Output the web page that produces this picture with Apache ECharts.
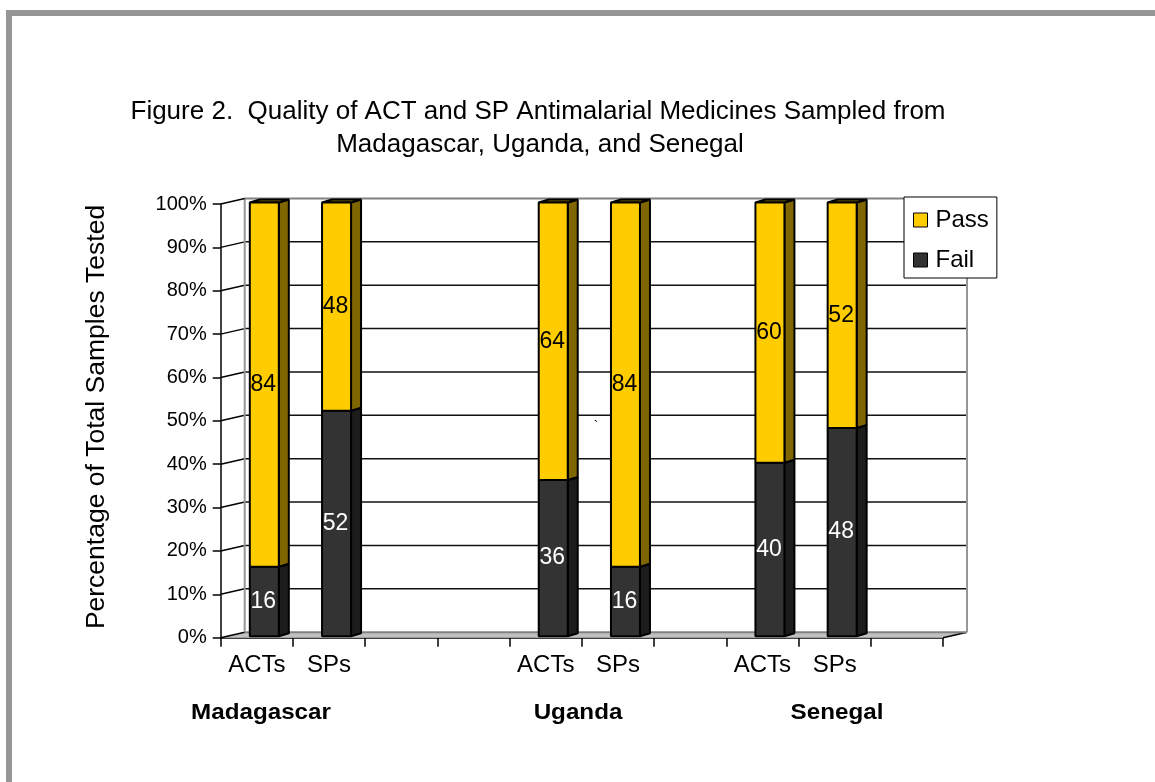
<!DOCTYPE html>
<html>
<head>
<meta charset="utf-8">
<title>Figure 2</title>
<script src="https://cdn.jsdelivr.net/npm/echarts@6/dist/echarts.min.js"></script>
<style>
  html, body { margin: 0; padding: 0; background: #fff; }
  #chart { width: 1155px; height: 782px; }
</style>
</head>
<body>
<div id="chart"></div>
<script>
// data
const categories = ['ACTs', 'SPs', '', '', 'ACTs', 'SPs', '', 'ACTs', 'SPs', '']
const failValues = [16, 52, null, null, 36, 16, null, 40, 48, null]
const passValues = [84, 48, null, null, 64, 84, null, 60, 52, null]
const yTicks = [0, 10, 20, 30, 40, 50, 60, 70, 80, 90, 100]
const countries = ['Madagascar', 'Uganda', 'Senegal']

const FONT = '"Liberation Sans", Arial, sans-serif'
// fake 3d depth of the plot box
const DX = 24
const DY = -5.5
// bar placement inside its category slot
const BAR_DX = 7.5
const BAR_DY = -1.5
const BAR_W = 29
const SIDE_DX = 10
const SIDE_DY = -3

const chart = echarts.init(document.getElementById('chart'))

const failData = []
const passData = []
categories.forEach((c, i) => {
  if (failValues[i] == null) return
  failData.push([i, 0, failValues[i]])
  passData.push([i, failValues[i], failValues[i] + passValues[i]])
})

const renderWalls = (params, api) => {
  const cs = params.coordSys
  const v = api.value(1)
  const y = api.coord([0, v])[1]
  const y0 = api.coord([0, 0])[1]
  const x0 = cs.x
  const x1 = cs.x + cs.width
  const edge = v === 0 || v === 100
  const children = []
  if (v === 0) {
    children.push({
      type: 'polygon',
      shape: { points: [[x0, y], [x1, y], [x1 + DX, y + DY], [x0 + DX, y + DY]] },
      style: { fill: '#c0c0c0', stroke: null },
    })
    children.push({
      type: 'line',
      shape: { x1: x1, y1: y, x2: x1 + DX, y2: y + DY },
      style: { stroke: '#000', lineWidth: 1.5 },
    })
  }
  if (v === 100) {
    children.push({
      type: 'line',
      shape: { x1: x0 + DX, y1: y + DY, x2: x0 + DX, y2: y0 + DY },
      style: { stroke: '#969696', lineWidth: 2 },
    })
    children.push({
      type: 'line',
      shape: { x1: x1 + DX, y1: y + DY, x2: x1 + DX, y2: y0 + DY },
      style: { stroke: '#969696', lineWidth: 2 },
    })
  }
  children.push({
    type: 'line',
    shape: { x1: x0 + DX, y1: y + DY, x2: x1 + DX, y2: y + DY },
    style: { stroke: edge ? '#808080' : '#111', lineWidth: edge ? 2 : 1.5 },
  })
  children.push({
    type: 'line',
    shape: { x1: x0, y1: y, x2: x0 + DX, y2: y + DY },
    style: { stroke: '#000', lineWidth: 1.5 },
  })
  return { type: 'group', children }
}

const barRenderer = (front, side, labelColor) => (params, api) => {
  const i = api.value(0)
  const start = api.value(1)
  const end = api.value(2)
  const top = api.coord([i, end])
  const bot = api.coord([i, start])
  const xl = top[0] + BAR_DX - BAR_W / 2
  const xr = xl + BAR_W
  const yt = top[1] + BAR_DY
  const yb = bot[1] + BAR_DY
  const edge = { stroke: '#000', lineWidth: 2, lineJoin: 'bevel' }
  return {
    type: 'group',
    children: [
      {
        type: 'polygon',
        shape: { points: [[xr, yt], [xr + SIDE_DX, yt + SIDE_DY], [xr + SIDE_DX, yb + SIDE_DY], [xr, yb]] },
        style: Object.assign({ fill: side }, edge),
      },
      {
        type: 'polygon',
        shape: { points: [[xl, yt], [xr, yt], [xr + SIDE_DX, yt + SIDE_DY], [xl + SIDE_DX, yt + SIDE_DY]] },
        style: Object.assign({ fill: side }, edge),
      },
      {
        type: 'rect',
        shape: { x: xl, y: yt, width: BAR_W, height: yb - yt },
        style: Object.assign({ fill: front }, edge),
      },
      {
        type: 'text',
        x: (xl + xr) / 2 - 1,
        y: (yt + yb) / 2,
        style: {
          text: String(end - start),
          fill: labelColor,
          fontSize: 23,
          fontFamily: FONT,
          align: 'center',
          verticalAlign: 'middle',
        },
      },
    ],
  }
}

const countryText = (name, x) => ({
  type: 'text',
  x: x,
  y: 713,
  scaleX: 1.1,
  style: {
    text: name, fontSize: 22, fontWeight: 'bold', fontFamily: FONT,
    fill: '#000', align: 'center', verticalAlign: 'middle',
  },
})

chart.setOption({
  animation: false,
  textStyle: { fontFamily: FONT, color: '#000' },
  graphic: [
    {
      type: 'rect',
      silent: true,
      shape: { x: 9, y: 13, width: 1400, height: 1000 },
      style: { fill: 'none', stroke: '#969696', lineWidth: 6 },
    },
    {
      type: 'text',
      x: 538,
      y: 112,
      style: {
        text: 'Figure 2.  Quality of ACT and SP Antimalarial Medicines Sampled from',
        fontSize: 26, fontFamily: FONT, fill: '#000', align: 'center', verticalAlign: 'middle',
      },
    },
    {
      type: 'text',
      x: 540,
      y: 145,
      style: {
        text: 'Madagascar, Uganda, and Senegal',
        fontSize: 26, fontFamily: FONT, fill: '#000', align: 'center', verticalAlign: 'middle',
      },
    },
    {
      type: 'text',
      x: 97,
      y: 417,
      rotation: Math.PI / 2,
      style: {
        text: 'Percentage of Total Samples Tested',
        fontSize: 26.5, fontFamily: FONT, fill: '#000', align: 'center', verticalAlign: 'middle',
      },
    },
    countryText(countries[0], 261),
    countryText(countries[1], 578),
    countryText(countries[2], 837),
    {
      type: 'text', x: 596, y: 427,
      style: { text: '`', fontSize: 14, fontFamily: FONT, fill: '#000', align: 'center', verticalAlign: 'middle' },
    },
  ],
  legend: {
    data: ['Pass', 'Fail'],
    orient: 'vertical',
    left: 904,
    top: 197,
    padding: [11, 8, 6, 9],
    itemGap: 16,
    itemWidth: 14,
    itemHeight: 14,
    icon: 'rect',
    backgroundColor: '#fff',
    borderColor: '#000',
    borderWidth: 1,
    borderRadius: 0,
    itemStyle: { borderColor: '#000', borderWidth: 1 },
    textStyle: { fontSize: 24, color: '#000', fontFamily: FONT, padding: [0, 0, 0, 3] },
  },
  grid: {
    left: 220.7,
    right: 212,
    top: 204,
    bottom: 144.3,
    containLabel: false,
  },
  xAxis: {
    type: 'category',
    data: categories,
    boundaryGap: true,
    axisLine: { lineStyle: { color: '#000', width: 1.5 } },
    axisTick: { show: true, length: 9, lineStyle: { color: '#000', width: 1.5 } },
    axisLabel: { fontSize: 24, color: '#000', margin: 16, interval: 0 },
    splitLine: { show: false },
  },
  yAxis: {
    type: 'value',
    min: 0,
    max: 100,
    interval: 10,
    axisLine: { show: true, lineStyle: { color: '#000', width: 1.5 } },
    axisTick: { show: true, length: 8, lineStyle: { color: '#000', width: 1.5 } },
    axisLabel: { fontSize: 20, color: '#000', margin: 14, formatter: '{value}%' },
    splitLine: { show: false },
  },
  series: [
    {
      name: 'walls',
      type: 'custom',
      silent: true,
      z: 1,
      renderItem: renderWalls,
      encode: { x: 0, y: 1 },
      data: yTicks.map((v) => [0, v]),
    },
    {
      name: 'Fail',
      type: 'custom',
      z: 3,
      itemStyle: { color: '#333333' },
      renderItem: barRenderer('#333333', '#1c1c1c', '#fff'),
      encode: { x: 0, y: [1, 2] },
      data: failData,
    },
    {
      name: 'Pass',
      type: 'custom',
      z: 3,
      itemStyle: { color: '#FFCC00' },
      renderItem: barRenderer('#FFCC00', '#7F6600', '#000'),
      encode: { x: 0, y: [1, 2] },
      data: passData,
    },
  ],
})
</script>
</body>
</html>
